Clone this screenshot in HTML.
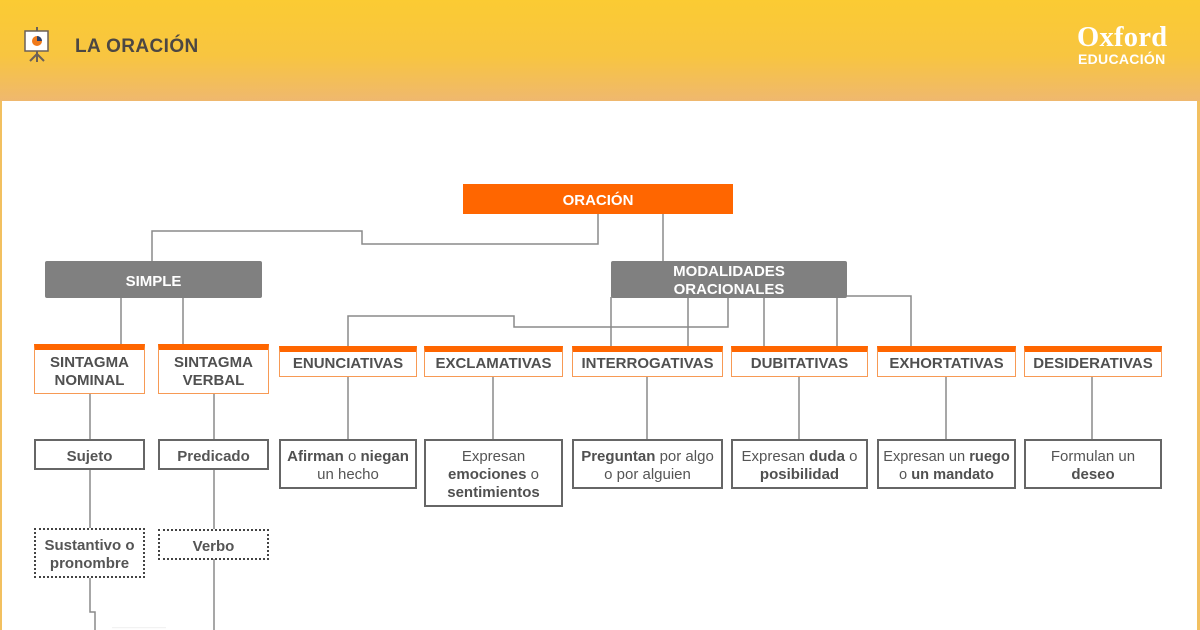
<!DOCTYPE html>
<html><head><meta charset="utf-8"><style>
*{margin:0;padding:0;box-sizing:border-box}
html,body{width:1200px;height:630px;overflow:hidden;background:#fff;font-family:"Liberation Sans",Arial,sans-serif}
#hdr{position:absolute;left:0;top:0;width:1200px;height:101px;background:linear-gradient(#fbcb33 0%,#f8c540 55%,#efb86e 100%)}
#title{position:absolute;left:75px;top:36px;font-size:19px;font-weight:bold;color:#4c4743;letter-spacing:0.4px}
#ox{position:absolute;left:1077px;top:22px;font-family:"Liberation Serif",serif;font-size:28.5px;font-weight:bold;color:#fff;letter-spacing:0.3px}
#edu{position:absolute;left:1078px;top:51px;font-size:14px;font-weight:bold;color:#fff;letter-spacing:0.3px}
.lb{position:absolute;top:101px;left:0;width:2px;height:529px;background:#f2c060}
.rb{position:absolute;top:101px;left:1197px;width:3px;height:529px;background:#f2c060}
.b{position:absolute;display:flex;align-items:center;justify-content:center;text-align:center;font-size:15px;line-height:18px;color:#555;padding-top:4px}
.or{background:#ff6600;color:#fff;font-weight:bold}
.gr{background:#808080;color:#fff;font-weight:bold;border-radius:2px}
.cat{border:1.5px solid #f79a55;border-top:6px solid #ff6600;font-weight:bold;color:#505050;padding-top:0;padding-bottom:0}
.bx{border:2px solid #666;color:#555}
.dt{border:2px dotted #444;font-weight:bold;color:#555}
b{color:#505050}
</style></head><body>
<div id="hdr"></div>
<svg style="position:absolute;left:22px;top:26px" width="30" height="38" viewBox="0 0 30 38">
<line x1="15" y1="1" x2="15" y2="36" stroke="#6b6058" stroke-width="2"/>
<line x1="15" y1="28" x2="8" y2="35" stroke="#6b6058" stroke-width="2"/>
<line x1="15" y1="28" x2="22" y2="35" stroke="#6b6058" stroke-width="2"/>
<rect x="3" y="5" width="23" height="20" fill="#fff" stroke="#6b6058" stroke-width="1.5"/>
<circle cx="15" cy="15" r="5" fill="#f07a1a"/>
<path d="M15 10 A5 5 0 0 1 20 15 L15 15 Z" fill="#2a3f6a"/>
</svg>
<div id="title">LA ORACIÓN</div>
<div id="ox">Oxford</div>
<div id="edu">EDUCACIÓN</div>
<div class="lb"></div><div class="rb"></div>

<svg style="position:absolute;left:0;top:0" width="1200" height="630">
<g fill="none" stroke="#8a8a8a" stroke-width="1.5">
<path d="M598,213 V244 H362 V231 H152 V261"/>
<path d="M663,213 V261"/>
<path d="M121,297 V345 M183,297 V345"/>
<path d="M90,393 V439 M214,393 V439 M90,470 V528 M214,470 V529"/>
<path d="M90,578 V612 H95 V630 M214,559 V630"/>
<path d="M728,297 V327 H514 V316 H348 V347"/>
<path d="M611,297 V347 M688,297 V347 M764,297 V347 M837,297 V347"/>
<path d="M847,296 H911 V347"/>
<path d="M348,377 V439 M493,377 V439 M647,377 V439 M799,377 V439 M946,377 V439 M1092,377 V439"/>
</g>
<text x="112" y="630" font-size="9" fill="#e6e6e6" font-family="Liberation Sans">——————</text>
</svg>

<div class="b or" style="left:463px;top:184px;width:270px;height:30px">ORACIÓN</div>
<div class="b gr" style="left:45px;top:261px;width:217px;height:37px">SIMPLE</div>
<div class="b gr" style="left:611px;top:261px;width:236px;height:37px;padding-top:2px">MODALIDADES<br>ORACIONALES</div>

<div class="b cat" style="left:34px;top:344px;width:111px;height:50px">SINTAGMA<br>NOMINAL</div>
<div class="b cat" style="left:158px;top:344px;width:111px;height:50px">SINTAGMA<br>VERBAL</div>

<div class="b cat" style="left:279px;top:346px;width:138px;height:31px">ENUNCIATIVAS</div>
<div class="b cat" style="left:424px;top:346px;width:139px;height:31px">EXCLAMATIVAS</div>
<div class="b cat" style="left:572px;top:346px;width:151px;height:31px">INTERROGATIVAS</div>
<div class="b cat" style="left:731px;top:346px;width:137px;height:31px">DUBITATIVAS</div>
<div class="b cat" style="left:877px;top:346px;width:139px;height:31px">EXHORTATIVAS</div>
<div class="b cat" style="left:1024px;top:346px;width:138px;height:31px">DESIDERATIVAS</div>

<div class="b bx" style="left:34px;top:439px;width:111px;height:31px;font-weight:bold">Sujeto</div>
<div class="b bx" style="left:158px;top:439px;width:111px;height:31px;font-weight:bold">Predicado</div>

<div class="b bx" style="left:279px;top:439px;width:138px;height:50px"><span><b>Afirman</b> o <b>niegan</b><br>un hecho</span></div>
<div class="b bx" style="left:424px;top:439px;width:139px;height:68px"><span>Expresan<br><b>emociones</b> o<br><b>sentimientos</b></span></div>
<div class="b bx" style="left:572px;top:439px;width:151px;height:50px"><span><b>Preguntan</b> por algo<br>o por alguien</span></div>
<div class="b bx" style="left:731px;top:439px;width:137px;height:50px"><span>Expresan <b>duda</b> o<br><b>posibilidad</b></span></div>
<div class="b bx" style="left:877px;top:439px;width:139px;height:50px;font-size:14.6px"><span>Expresan un <b>ruego</b><br>o <b>un mandato</b></span></div>
<div class="b bx" style="left:1024px;top:439px;width:138px;height:50px"><span>Formulan un<br><b>deseo</b></span></div>

<div class="b dt" style="left:34px;top:528px;width:111px;height:50px">Sustantivo o<br>pronombre</div>
<div class="b dt" style="left:158px;top:529px;width:111px;height:31px">Verbo</div>
</body></html>
